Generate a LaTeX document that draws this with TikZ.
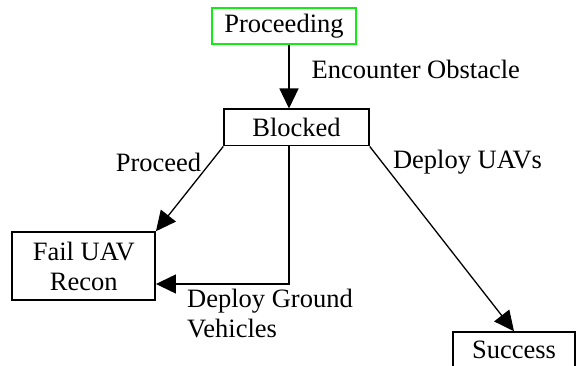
\documentclass[tikz,border=0pt]{standalone}
\usepackage{fontspec}
\setmainfont{Liberation Serif}
\usepackage{tikz}
\usetikzlibrary{arrows.meta}
\definecolor{startgreen}{RGB}{20,235,20}
\tikzset{state/.style={draw,line width=1.5pt,inner sep=0pt,align=center},
    start/.style={state,draw=startgreen},
    lbl/.style={inner sep=0pt,align=left},
    trans/.style={draw,line width=1.3pt,-{Triangle[length=20pt,width=19pt]}},
    x=1pt,y=-1pt}

\begin{document}
\begin{tikzpicture}[font=\fontsize{26.5}{30}\selectfont]
	\useasboundingbox (0,0) rectangle (576,366);
	\node[start,minimum width=144pt,minimum height=36pt] (proc) at (284,26) {Proceeding};
	\node[state,minimum width=145pt,minimum height=36.5pt] (blk) at (296.5,127.5) {Blocked};
	\node[state,minimum width=143pt,minimum height=68pt] (fail) at (83.7,266) {Fail UAV\\Recon};
	\node[state,minimum width=122pt,minimum height=36pt] (succ) at (514,350) {Success};
	\coordinate (turn) at (289,284);
	\draw[trans] (proc.south -| turn) -- (blk.north -| turn);
	\draw[trans] (blk.south west) -- (fail.north east);
	\draw[trans] (blk.south -| turn) -- (turn) -- (turn -| fail.east);
	\draw[trans] (blk.south east) -- (succ.north);
	\node[lbl,anchor=west] (enc) at (311.5,69) {Encounter Obstacle};
	\node[lbl] (pro) at (158.5,162) {Proceed};
	\node[lbl] (uav) at (467.5,162) {Deploy UAVs};
	\node[lbl,anchor=west] (gnd) at (187,313.5) {Deploy Ground\\Vehicles};
\end{tikzpicture}
\end{document}
